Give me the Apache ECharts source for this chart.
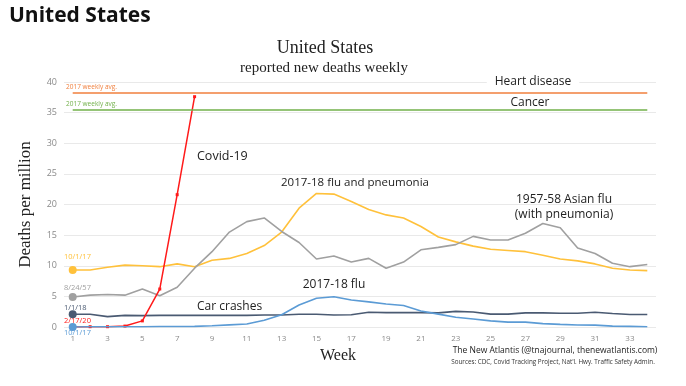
<!DOCTYPE html>
<html><head><meta charset="utf-8">
<script src="https://cdn.jsdelivr.net/npm/echarts@6/dist/echarts.min.js"></script>
<style>html,body{margin:0;padding:0;background:#fff}#c{width:686px;height:386px}</style>
</head><body><div id="c"></div>
<script>
const weeks = Array.from({length:34}, (_, i) => String(i + 1));
const fluPneumonia = [9.3,9.3,9.75,10.1,10.0,9.85,10.3,9.85,10.9,11.2,12.0,13.3,15.5,19.4,21.8,21.7,20.5,19.2,18.3,17.8,16.4,14.7,13.9,13.2,12.7,12.5,12.3,11.7,11.1,10.8,10.3,9.6,9.3,9.2];
const asianFlu = [4.9,5.2,5.3,5.2,6.2,5.1,6.5,9.6,12.3,15.5,17.2,17.8,15.6,13.8,11.1,11.6,10.6,11.2,9.6,10.6,12.6,13.0,13.45,14.8,14.2,14.2,15.3,16.9,16.2,12.9,12.0,10.4,9.85,10.2];
const carCrashes = [2.07,2.07,1.7,1.9,1.85,1.9,1.9,1.9,1.9,1.9,1.9,1.96,1.96,2.07,2.07,1.96,2.0,2.4,2.35,2.35,2.35,2.3,2.55,2.45,2.1,2.1,2.3,2.3,2.25,2.25,2.4,2.2,2.05,2.05];
const flu = [0.0,0.05,0.05,0.05,0.05,0.07,0.08,0.1,0.2,0.35,0.5,1.1,2.0,3.6,4.7,4.95,4.4,4.1,3.75,3.5,2.6,2.1,1.6,1.3,1.0,0.8,0.8,0.55,0.43,0.33,0.3,0.15,0.1,0.05];
const covid = [0.0,0.05,0.05,0.15,1.0,6.2,21.6,37.6];
const heartDisease = 38.2;
const cancer = 35.4;
const yTicks = [0,5,10,15,20,25,30,35,40];

const sans = '"Open Sans", "Noto Sans", sans-serif';
const serif = '"Liberation Serif", "DejaVu Serif", serif';
const C = {yellow:'#FFC13B', gray:'#A0A0A0', dark:'#4A5A72', blue:'#5B9BD5', red:'#FF1A1A', orange:'#F07F3C', green:'#72B04A'};

function firstDot(data, color) {
  return data.map((v, i) => i === 0 ? {value: v, symbol: 'circle', symbolSize: 8, itemStyle: {color}} : v);
}

const chart = echarts.init(document.getElementById('c'), null, {renderer: 'canvas'});
chart.setOption({
  animation: false,
  backgroundColor: '#fff',
  grid: {left: 64, right: 30, top: 82, bottom: 59},
  xAxis: {
    type: 'category', data: weeks, boundaryGap: true,
    name: 'Week', nameLocation: 'middle', nameGap: 19,
    nameTextStyle: {fontFamily: serif, fontSize: 16, color: '#222', padding: [0, 44, 0, 0]},
    axisLine: {show: false}, axisTick: {show: false},
    axisLabel: {interval: 1, color: '#8a8a8a', fontSize: 8, fontFamily: sans, margin: 8}
  },
  yAxis: {
    type: 'value', min: 0, max: 40, interval: 5,
    name: 'Deaths per million', nameLocation: 'middle', nameGap: 30,
    nameTextStyle: {fontFamily: serif, fontSize: 17, color: '#222'},
    axisLine: {show: false}, axisTick: {show: false},
    axisLabel: {color: '#8a8a8a', fontSize: 9, fontFamily: sans, margin: 7,
      formatter: v => yTicks.includes(v) ? String(v) : ''},
    splitLine: {lineStyle: {color: '#e9e9e9', width: 1}}
  },
  series: [
    {type: 'line', name: 'flu and pneumonia', data: firstDot(fluPneumonia, C.yellow), symbol: 'none', showSymbol: true,
      lineStyle: {color: C.yellow, width: 1.6}, itemStyle: {color: C.yellow}, z: 3,
      markLine: {silent: true, symbol: 'none', label: {show: false},
        data: [
          [{coord: [weeks[0], heartDisease]}, {coord: [weeks[33], heartDisease]}],
        ], lineStyle: {color: C.orange, width: 1.5, type: 'solid'}}},
    {type: 'line', name: 'Asian flu', data: firstDot(asianFlu, C.gray), symbol: 'none', showSymbol: true,
      lineStyle: {color: C.gray, width: 1.6}, itemStyle: {color: C.gray}, z: 3,
      markLine: {silent: true, symbol: 'none', label: {show: false},
        data: [
          [{coord: [weeks[0], cancer]}, {coord: [weeks[33], cancer]}],
        ], lineStyle: {color: C.green, width: 1.5, type: 'solid'}}},
    {type: 'line', name: 'Car crashes', data: firstDot(carCrashes, C.dark), symbol: 'none', showSymbol: true,
      lineStyle: {color: C.dark, width: 1.6}, itemStyle: {color: C.dark}, z: 3},
    {type: 'line', name: 'Covid-19', data: covid, symbol: 'rect', symbolSize: 3, showSymbol: true,
      lineStyle: {color: C.red, width: 1.5}, itemStyle: {color: C.red}, z: 4},
    {type: 'line', name: '2017-18 flu', data: firstDot(flu, C.blue), symbol: 'none', showSymbol: true,
      lineStyle: {color: C.blue, width: 1.6}, itemStyle: {color: C.blue}, z: 5}
  ],
  graphic: [
    {type: 'text', left: 9, top: 6, style: {text: 'United States', font: 'bold 21px ' + sans, fill: '#111'}},
    {type: 'text', x: 325, y: 48, style: {text: 'United States', font: '18px ' + serif, fill: '#222', align: 'center', verticalAlign: 'middle'}},
    {type: 'text', x: 324, y: 68, style: {text: 'reported new deaths weekly', font: '15px ' + serif, fill: '#222', align: 'center', verticalAlign: 'middle'}},
    {type: 'text', x: 533, y: 82, z: 10, style: {text: 'Heart disease', font: '12px ' + sans, fill: '#222', align: 'center', verticalAlign: 'middle', backgroundColor: '#fff', padding: [0, 8]}},
    {type: 'text', x: 530, y: 103, z: 10, style: {text: 'Cancer', font: '12px ' + sans, fill: '#222', align: 'center', verticalAlign: 'middle'}},
    {type: 'text', x: 66, y: 87, style: {text: '2017 weekly avg.', font: '6.5px ' + sans, fill: C.orange, verticalAlign: 'middle'}},
    {type: 'text', x: 66, y: 104, style: {text: '2017 weekly avg.', font: '6.5px ' + sans, fill: C.green, verticalAlign: 'middle'}},
    {type: 'text', x: 197, y: 156, style: {text: 'Covid-19', font: '12.5px ' + sans, fill: '#222', verticalAlign: 'middle'}},
    {type: 'text', x: 355, y: 183, style: {text: '2017-18 flu and pneumonia', font: '11.5px ' + sans, fill: '#222', align: 'center', verticalAlign: 'middle'}},
    {type: 'text', x: 564, y: 200, style: {text: '1957-58 Asian flu', font: '12px ' + sans, fill: '#222', align: 'center', verticalAlign: 'middle'}},
    {type: 'text', x: 564, y: 215, style: {text: '(with pneumonia)', font: '12px ' + sans, fill: '#222', align: 'center', verticalAlign: 'middle'}},
    {type: 'text', x: 334, y: 285, style: {text: '2017-18 flu', font: '12px ' + sans, fill: '#222', align: 'center', verticalAlign: 'middle'}},
    {type: 'text', x: 197, y: 307, style: {text: 'Car crashes', font: '12px ' + sans, fill: '#222', verticalAlign: 'middle'}},
    {type: 'text', x: 64, y: 257, style: {text: '10/1/17', font: '7.5px ' + sans, fill: C.yellow, verticalAlign: 'middle'}},
    {type: 'text', x: 64, y: 288, style: {text: '8/24/57', font: '7.5px ' + sans, fill: C.gray, verticalAlign: 'middle'}},
    {type: 'text', x: 64, y: 308, style: {text: '1/1/18', font: '7.5px ' + sans, fill: C.dark, verticalAlign: 'middle'}},
    {type: 'text', x: 64, y: 321, style: {text: '2/17/20', font: '7.5px ' + sans, fill: C.red, verticalAlign: 'middle'}},
    {type: 'text', x: 64, y: 333, style: {text: '10/1/17', font: '7.5px ' + sans, fill: C.blue, verticalAlign: 'middle'}},
    {type: 'text', x: 555, y: 351, style: {text: 'The New Atlantis (@tnajournal, thenewatlantis.com)', font: '8.5px ' + sans, fill: '#222', align: 'center', verticalAlign: 'middle'}},
    {type: 'text', x: 553, y: 362, style: {text: "Sources: CDC, Covid Tracking Project, Nat'l. Hwy. Traffic Safety Admin.", font: '6.3px ' + sans, fill: '#333', align: 'center', verticalAlign: 'middle'}}
  ]
});
</script></body></html>
